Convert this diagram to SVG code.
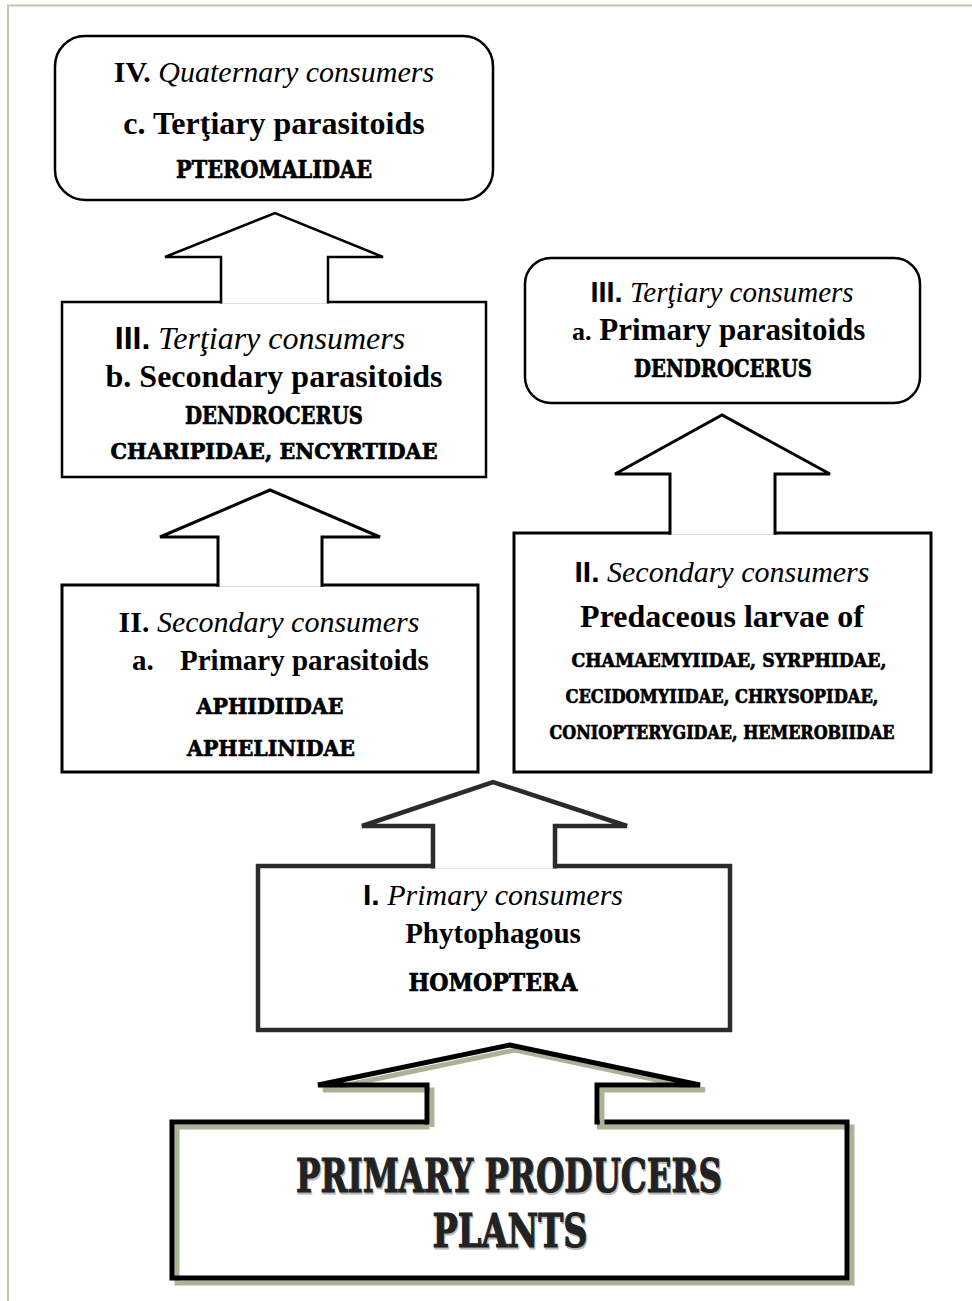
<svg xmlns="http://www.w3.org/2000/svg" width="972" height="1301" viewBox="0 0 972 1301">
<style>
.box{fill:#fff;stroke:#000;stroke-width:2.5;stroke-linejoin:miter}
.arr{fill:#fff;stroke:#000;stroke-width:2.5;stroke-linejoin:miter}
.t{font-family:"Liberation Serif","Times New Roman",serif;fill:#000;text-anchor:middle}
.it{font-style:italic;font-weight:normal}
.b{font-weight:bold}
.sans{font-family:"Liberation Sans",Arial,sans-serif;font-weight:bold;font-style:normal}
.d{font-family:"DejaVu Serif","Liberation Serif",serif;font-weight:bold;fill:#000;stroke:#000;stroke-width:0.7;text-anchor:middle}
.big{stroke-width:1.2}
.page{stroke:#cdc3a0;stroke-width:2;fill:none}
</style>
<rect x="0" y="0" width="972" height="1301" fill="#fff"/>
<path class="page" d="M8,1301 V5.5 H972"/>

<g id="node-quaternary">
<rect class="box" x="55" y="36" width="438" height="164" rx="30" ry="30"/>
<text class="t" x="274" y="82" font-size="30"><tspan class="b">IV.</tspan> <tspan class="it">Quaternary consumers</tspan></text>
<text class="t b" x="274" y="134" font-size="32">c. Terţiary parasitoids</text>
<text class="d" x="274" y="178" font-size="24" textLength="196" lengthAdjust="spacingAndGlyphs">PTEROMALIDAE</text>
</g>

<g id="node-tertiary-b">
<rect class="box" x="62" y="302" width="424" height="175"/>
<text class="t" x="260" y="349" font-size="32"><tspan class="sans">III.</tspan> <tspan class="it">Terţiary consumers</tspan></text>
<text class="t b" x="274" y="387" font-size="32">b. Secondary parasitoids</text>
<text class="d" x="274" y="424" font-size="24" textLength="178" lengthAdjust="spacingAndGlyphs">DENDROCERUS</text>
<text class="d" x="274" y="459" font-size="22" textLength="327" lengthAdjust="spacingAndGlyphs">CHARIPIDAE, ENCYRTIDAE</text>
</g>

<g id="node-tertiary-a">
<rect class="box" x="525" y="258" width="395" height="145" rx="26" ry="26"/>
<text class="t" x="722" y="302" font-size="29"><tspan class="sans">III.</tspan> <tspan class="it">Terţiary consumers</tspan></text>
<text class="t b" x="572" y="340" style="text-anchor:start"><tspan font-size="26">a.</tspan><tspan font-size="31"> Primary parasitoids</tspan></text>
<text class="d" x="723" y="377" font-size="24" textLength="178" lengthAdjust="spacingAndGlyphs">DENDROCERUS</text>
</g>

<g id="node-secondary-a">
<rect class="box" x="62" y="585" width="416" height="187" style="stroke-width:3"/>
<text class="t" x="269" y="632" font-size="30"><tspan class="b">II.</tspan> <tspan class="it">Secondary consumers</tspan></text>
<text class="t b" x="132" y="670" font-size="29" style="text-anchor:start">a.</text>
<text class="t b" x="180" y="670" font-size="29" style="text-anchor:start">Primary parasitoids</text>
<text class="d" x="270" y="714" font-size="23" textLength="147" lengthAdjust="spacingAndGlyphs">APHIDIIDAE</text>
<text class="d" x="271" y="756" font-size="23" textLength="168" lengthAdjust="spacingAndGlyphs">APHELINIDAE</text>
</g>

<g id="node-secondary-pred">
<rect class="box" x="514" y="533" width="417" height="239" style="stroke-width:3"/>
<text class="t" x="722" y="582" font-size="30"><tspan class="sans">II.</tspan> <tspan class="it">Secondary consumers</tspan></text>
<text class="t b" x="722" y="627" font-size="32">Predaceous larvae of</text>
<text class="d" x="729" y="667" font-size="19" textLength="315" lengthAdjust="spacingAndGlyphs">CHAMAEMYIIDAE, SYRPHIDAE,</text>
<text class="d" x="722" y="703" font-size="19" textLength="313" lengthAdjust="spacingAndGlyphs">CECIDOMYIIDAE, CHRYSOPIDAE,</text>
<text class="d" x="722" y="739" font-size="18" textLength="345" lengthAdjust="spacingAndGlyphs">CONIOPTERYGIDAE, HEMEROBIIDAE</text>
</g>

<g id="node-primary-consumers">
<rect class="box" x="258" y="866" width="472" height="164" style="stroke:#2b2b2b;stroke-width:4.5"/>
<text class="t" x="493" y="905" font-size="30"><tspan class="sans">I.</tspan> <tspan class="it">Primary consumers</tspan></text>
<text class="t b" x="493" y="943" font-size="29">Phytophagous</text>
<text class="d" x="493" y="991" font-size="24" textLength="169" lengthAdjust="spacingAndGlyphs">HOMOPTERA</text>
</g>

<g id="node-producers">
<rect x="172" y="1122" width="675" height="156" fill="#fff"/>
<rect x="177" y="1127" width="675" height="156" fill="none" stroke="#a9b497" stroke-width="5"/>
<rect x="172" y="1122" width="675" height="156" fill="none" stroke="#000" stroke-width="5"/>
<text class="d big" x="510" y="1194" font-size="46" textLength="426" lengthAdjust="spacingAndGlyphs" style="fill:#b8b8b8;stroke:#b8b8b8">PRIMARY PRODUCERS</text>
<text class="d big" x="509" y="1192" font-size="46" textLength="426" lengthAdjust="spacingAndGlyphs" style="fill:#222;stroke:#222">PRIMARY PRODUCERS</text>
<text class="d big" x="511" y="1249" font-size="46" textLength="155" lengthAdjust="spacingAndGlyphs" style="fill:#b8b8b8;stroke:#b8b8b8">PLANTS</text>
<text class="d big" x="510" y="1247" font-size="46" textLength="155" lengthAdjust="spacingAndGlyphs" style="fill:#222;stroke:#222">PLANTS</text>
</g>

<g id="connectors">
<path class="arr" d="M221,303.5 V257 H165 L275,213 L383,257 H328 V303.5"/>
<path class="arr" d="M218,586.7 V537 H160 L270,490 L380,537 H322 V586.7" style="stroke-width:3"/>
<path class="arr" d="M670,534.7 V474 H615 L722,415 L830,474 H775 V534.7" style="stroke-width:3"/>
<path class="arr" d="M433,868.5 V826 H362 L493,782 L627,826 H555 V868.5" style="stroke:#2b2b2b;stroke-width:4.5"/>
<path d="M429.5,1131 V1087.5 H597 V1131 Z" fill="#fff"/>
<path d="M427,1124.5 V1085 H318 L510,1045 L700,1085 H597 V1124.5 Z" fill="#fff"/>
<path d="M432,1127 V1090 H323 L515,1050 L705,1090 H602 V1127" fill="none" stroke="#a9b497" stroke-width="5"/>
<path d="M427,1124.5 V1085 H318 L510,1045 L700,1085 H597 V1124.5" fill="none" stroke="#000" stroke-width="5"/>
</g>
</svg>
